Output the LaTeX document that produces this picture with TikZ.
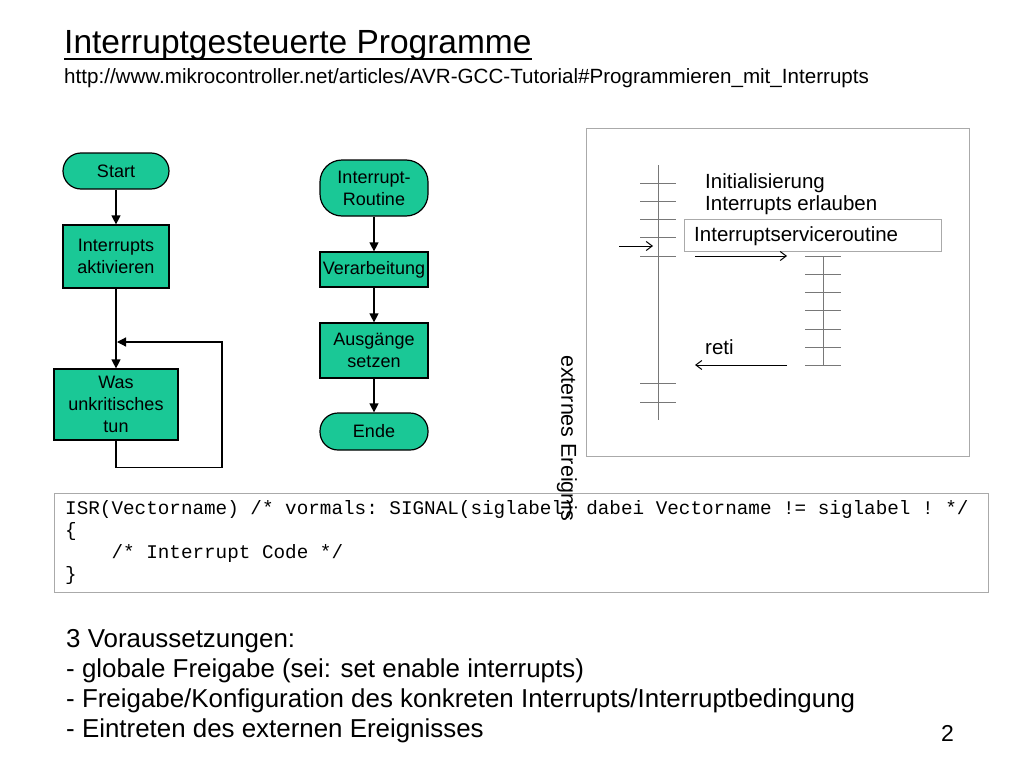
\documentclass[tikz,border=0pt]{standalone}
\usepackage{fontspec}
\setmainfont{Liberation Sans}
\setmonofont{Liberation Mono}
\usetikzlibrary{arrows.meta,calc}
\definecolor{fcgreen}{RGB}{26,200,150}
\definecolor{panelgray}{RGB}{170,170,170}
\definecolor{linegray}{RGB}{120,120,120}
\tikzset{
  flow/.style={draw=black, line width=1.2pt, fill=fcgreen, inner sep=0pt, align=center,
    font=\fontsize{18}{22}\selectfont},
  term/.style={flow, rounded corners=18pt},
  farrow/.style={line width=1.2pt, -{Triangle[length=9pt,width=9pt]}},
  tick/.style={draw=linegray, line width=0.8pt},
  parrow/.style={line width=1pt, -{Straight Barb[length=6pt,width=9pt]}},
  ptext/.style={anchor=west, inner sep=0pt, font=\fontsize{20.5}{23}\selectfont},
}
\begin{document}
\begin{tikzpicture}[x=1pt,y=-1pt]
\useasboundingbox (0,0) rectangle (1024,768);
% title
\node[anchor=base west, inner sep=0pt, font=\fontsize{33.5}{38}\selectfont] (title) at (64,53) {Interruptgesteuerte Programme};
\draw[line width=1.6pt] ($(title.base west)+(0,6)$) -- ($(title.base east)+(0,6)$);
\node[anchor=base west, inner sep=0pt, font=\fontsize{20.6}{23}\selectfont] (url) at (64,83) {http://www.mikrocontroller.net/articles/AVR-GCC-Tutorial\#Programmieren\_mit\_Interrupts};

% left flowchart
\node[term, minimum width=106pt, minimum height=36pt] (start) at (116,171) {Start};
\node[flow, minimum width=106pt, minimum height=63pt] (akt) at (116,256.5) {Interrupts\\aktivieren};
\node[flow, minimum width=124pt, minimum height=71pt] (was) at (116,404.5) {Was\\unkritisches\\tun};
\coordinate (loopin) at (117,342);
\draw[farrow] (start.south) -- (akt.north);
\draw[farrow] (akt.south) -- (was.north);
\draw[farrow] (was.south) -- ++(0,27) -| (222,342) -- (loopin);

% middle flowchart
\node[term, rounded corners=22pt, minimum width=108pt, minimum height=56pt] (isr) at (374,188) {Interrupt-\\Routine};
\node[flow, minimum width=108pt, minimum height=35pt] (verarb) at (374,269.5) {Verarbeitung};
\node[flow, minimum width=108pt, minimum height=55pt] (ausg) at (374,350.5) {Ausgänge\\setzen};
\node[term, minimum width=108pt, minimum height=37pt] (ende) at (374,431.5) {Ende};
\draw[farrow] (isr.south) -- (verarb.north);
\draw[farrow] (verarb.south) -- (ausg.north);
\draw[farrow] (ausg.south) -- (ende.north);

% right panel
\draw[panelgray, line width=1pt] (586,128) rectangle (969,456);
\draw[tick] (658,165) -- (658,420);
\foreach \y in {183,201,219,237,256,383,402} \draw[tick] (640,\y) -- (676,\y);
\draw[tick] (823,256) -- (823,365);
\foreach \y in {256,274,292,310,329,347,365} \draw[tick] (805,\y) -- (841,\y);
\node[ptext] (init) at (705,183) {Initialisierung};
\node[ptext] (erl) at (705,205) {Interrupts erlauben};
\node[draw=panelgray, line width=1pt, fill=white, anchor=north west, minimum width=257pt, minimum height=32pt, inner sep=0pt] (isrbox) at (684,219) {};
\node[ptext] (isrtext) at (694,236) {Interruptserviceroutine};
\node[ptext] (reti) at (705,347) {reti};
\coordinate (e1) at (619,246);
\coordinate (e2) at (653,246);
\draw[parrow] (e1) -- (e2);
\coordinate (c1) at (695,256);
\coordinate (c2) at (787,256);
\draw[parrow] (c1) -- (c2);
\coordinate (r1) at (787,365);
\coordinate (r2) at (695,365);
\draw[parrow] (r1) -- (r2);

% code box
\node[draw=panelgray, line width=1pt, anchor=north west, minimum width=934pt, minimum height=99pt, inner sep=0pt] (code) at (54,493) {};
\node[anchor=base west, inner sep=0pt, align=left, font=\ttfamily\fontsize{19.3}{21.7}\selectfont] (codetext) at (65,580)
{ISR(Vectorname) /* vormals: SIGNAL(siglabel) dabei Vectorname != siglabel ! */\\
\{\\
\ \ \ \ /* Interrupt Code */\\
\}};
\node[rotate=-90, anchor=west, inner sep=0pt, font=\fontsize{21.5}{24}\selectfont] (ext) at (567,355) {externes Ereignis};

% bottom text
\node[anchor=base west, inner sep=0pt, align=left, font=\fontsize{25.9}{29.7}\selectfont] (vor) at (66,737)
{3 Voraussetzungen:\\
- globale Freigabe (sei: set enable interrupts)\\
- Freigabe/Konfiguration des konkreten Interrupts/Interruptbedingung\\
- Eintreten des externen Ereignisses};
\node[anchor=base west, inner sep=0pt, font=\fontsize{23}{26}\selectfont] (num) at (941,741) {2};
\end{tikzpicture}
\end{document}
